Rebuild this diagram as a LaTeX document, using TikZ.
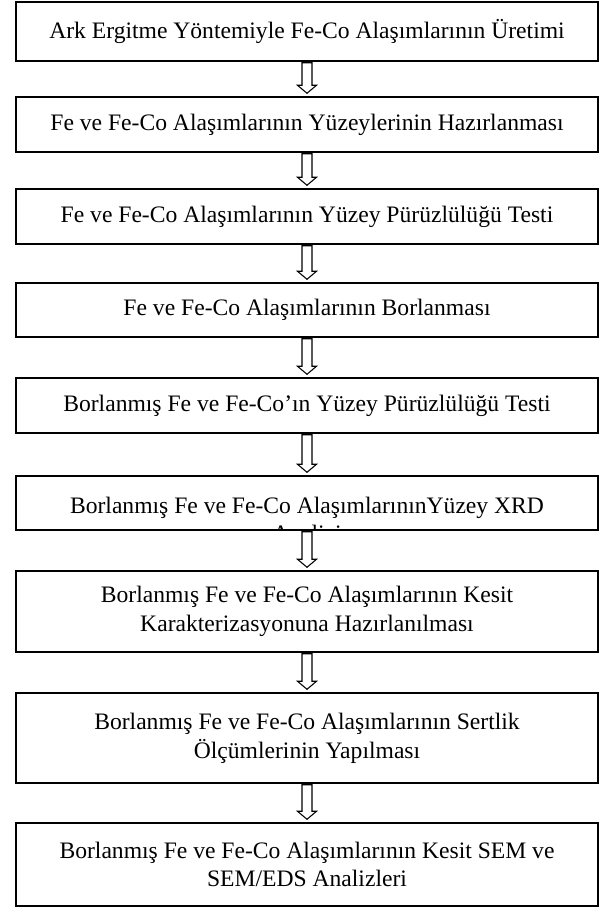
\documentclass[tikz,border=0pt]{standalone}
\usepackage{fontspec}
\setmainfont{Liberation Serif}
\usetikzlibrary{calc}
\tikzset{
  stage/.style={draw=black, line width=1.1pt, minimum width=436.5pt, align=center, inner sep=0pt, font=\fontsize{17.7}{21.5}\selectfont},
  cuttext/.style={align=center, inner sep=0pt, font=\fontsize{17.7}{21.5}\selectfont},
  flowarrow/.style={draw=black, line width=0.8pt, fill=white}
}

\begin{document}
\begin{tikzpicture}[x=0.75pt, y=-0.75pt]
  \useasboundingbox (0,0) rectangle (600,908);
  % process stages, top to bottom
  \node[stage, minimum height=44.25pt] (b1) at (307,31.5) {Ark Ergitme Yöntemiyle Fe-Co Alaşımlarının Üretimi};
  \node[stage, minimum height=41.25pt] (b2) at (307,124.5) {Fe ve Fe-Co Alaşımlarının Yüzeylerinin Hazırlanması};
  \node[stage, minimum height=41.25pt] (b3) at (307,216.5) {Fe ve Fe-Co Alaşımlarının Yüzey Pürüzlülüğü Testi};
  \node[stage, minimum height=40.5pt] (b4) at (307,310) {Fe ve Fe-Co Alaşımlarının Borlanması};
  \node[stage, minimum height=41.25pt] (b5) at (307,405.5) {Borlanmış Fe ve Fe-Co’ın Yüzey Pürüzlülüğü Testi};
  \node[stage, minimum height=40.5pt] (b6) at (307,503) {};
  \node[stage, minimum height=60.75pt] (b7) at (307,611.5) {Borlanmış Fe ve Fe-Co Alaşımlarının Kesit\\Karakterizasyonuna Hazırlanılması};
  \node[stage, minimum height=67.5pt] (b8) at (307,738) {Borlanmış Fe ve Fe-Co Alaşımlarının Sertlik\\Ölçümlerinin Yapılması};
  \node[stage, minimum height=62.25pt] (b9) at (307,864.5) {Borlanmış Fe ve Fe-Co Alaşımlarının Kesit SEM ve\\SEM/EDS Analizleri};

  % text of stage 6 runs past its box
  \begin{scope}
    \clip ($(b6.south west)+(1.5,-1.5)$) rectangle ($(b6.north east)+(-1.5,1.5)$);
    \node[cuttext] (t6) at ($(b6.center)+(0,16.5)$) {Borlanmış Fe ve Fe-Co AlaşımlarınınYüzey XRD\\Analizi};
  \end{scope}

  % hollow arrows between stages
  \foreach \a/\b in {b1/b2,b2/b3,b3/b4,b4/b5,b5/b6,b6/b7,b7/b8,b8/b9}{
    \draw[flowarrow] ($(\a.south)+(-5,1)$) -- ($(\b.north)+(-5,-11)$) -- ($(\b.north)+(-9.5,-11)$)
      -- ($(\b.north)+(0,-3)$) -- ($(\b.north)+(9.5,-11)$) -- ($(\b.north)+(5,-11)$)
      -- ($(\a.south)+(5,1)$) -- cycle;
  }
\end{tikzpicture}
\end{document}
